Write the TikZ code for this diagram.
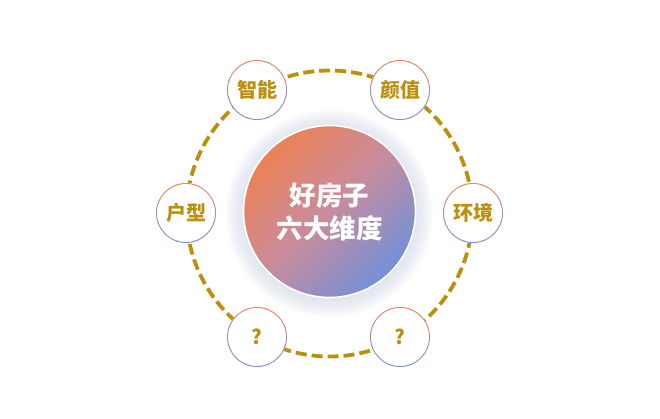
\documentclass[tikz,border=0pt]{standalone}
\usepackage{fontspec}
\newfontfamily\cjk{Noto Sans CJK SC}
\definecolor{gold}{HTML}{BC900E}
\definecolor{ringo}{HTML}{E8845C}
\definecolor{ringb}{HTML}{6F92D6}
\definecolor{bigo}{HTML}{EC8154}
\definecolor{bigm}{HTML}{C78C9F}
\definecolor{bigb}{HTML}{7390D8}
\definecolor{shadowc}{HTML}{A8B4D8}
\tikzset{
  smallc/.style={circle, minimum size=60pt, inner sep=0pt, fill=white, text=gold,
    font=\cjk\bfseries\fontsize{20}{24}\selectfont},
  bigc/.style={circle, minimum size=172pt, inner sep=0pt, top color=bigo, bottom color=bigb,
    middle color=bigm, shading angle=45, draw=white, line width=1.6pt, text=white, align=center,
    font=\cjk\bfseries\fontsize{26.5}{33}\selectfont},
  ringline/.style={top color=ringo, bottom color=ringb, even odd rule},
  ringdash/.style={draw=gold, line width=3.8pt, dash pattern=on 11pt off 5pt}
}
\begin{document}
\begin{tikzpicture}[x=1pt,y=-1pt]
\useasboundingbox (0,0) rectangle (660,418);
\fill[white] (0,0) rectangle (660,418);
\coordinate (o) at (329.5,213.5);
\draw[ringdash] (o) circle (143pt);
\foreach \r in {1,...,18} \fill[shadowc, opacity=0.016] (329.5,213.5) circle ({86+\r*1pt});
\node[bigc] (c) at (329.5,211.5) {好房子\\六大维度};
\foreach \n/\x/\y/\t in {a/257/90/智能, b/400/90/颜值, e/473/213/环境, d/400/337/?, f/257/337/?, g/186/213/户型}{
  \node[smallc] (\n) at (\x,\y) {\t};
  \shade[ringline] (\n.center) circle (30pt) circle (29.1pt);
}
\end{tikzpicture}
\end{document}
